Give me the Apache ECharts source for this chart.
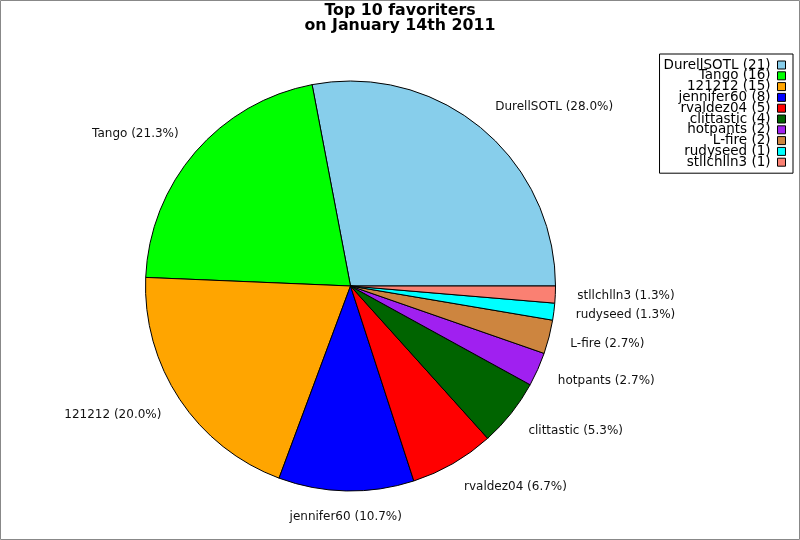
<!DOCTYPE html>
<html lang="en">
<head>
    <meta charset="UTF-8">
    <title>Top 10 favoriters</title>
    <script src="https://cdn.jsdelivr.net/npm/echarts@6/dist/echarts.min.js"></script>
    <style>
        html, body { margin: 0; padding: 0; background: #fff; }
        #main { width: 800px; height: 540px; }
    </style>
</head>
<body>
<div id="main"></div>
<script type="text/javascript">
    // data
    var names = ['DurellSOTL', 'Tango', '121212', 'jennifer60', 'rvaldez04',
                 'clittastic', 'hotpants', 'L-fire', 'rudyseed', 'stllchlln3'];
    var counts = [21, 16, 15, 8, 5, 4, 2, 2, 1, 1];
    var colors = ['#87ceeb', '#00ff00', '#ffa500', '#0000ff', '#ff0000',
                  '#006400', '#a020f0', '#cd853f', '#00ffff', '#fa8072'];

    var pieData = [];
    var total = 0;
    for (var i = 0; i < names.length; i++) {
        pieData.push({ name: names[i], value: counts[i] });
        total += counts[i];
    }

    // mid angle of each slice (counter-clockwise from 3 o'clock), used to
    // nudge labels away from the pie vertically like the original does
    var midAngles = [];
    var acc = 0;
    for (var j = 0; j < counts.length; j++) {
        midAngles.push((acc + counts[j] / 2) / total * Math.PI * 2);
        acc += counts[j];
    }

    var myChart = echarts.init(document.getElementById('main'));

    var option = {
        animation: false,
        color: colors,
        title: {
            text: 'Top 10 favoriters\non January 14th 2011',
            left: 'center',
            top: 3,
            padding: 0,
            textStyle: {
                fontFamily: 'DejaVu Sans',
                fontSize: 15.8,
                fontWeight: 'bold',
                color: '#000',
                lineHeight: 15
            }
        },
        legend: {
            orient: 'vertical',
            right: 7,
            top: 54,
            align: 'right',
            padding: [4, 7, 4, 4],
            borderColor: '#000',
            borderWidth: 1,
            itemWidth: 8,
            itemHeight: 8,
            itemGap: -3.2,
            icon: 'rect',
            selectedMode: false,
            itemStyle: { borderColor: '#000', borderWidth: 1 },
            textStyle: {
                fontFamily: 'DejaVu Sans',
                fontSize: 13.5,
                color: '#000',
                padding: [0, 2, 0, 0]
            },
            formatter: function (name) {
                return name + ' (' + counts[names.indexOf(name)] + ')';
            },
            data: names
        },
        graphic: [{
            type: 'rect',
            shape: { x: 0.5, y: 0.5, width: 799, height: 539 },
            style: { fill: 'none', stroke: '#888', lineWidth: 1 },
            silent: true
        }],
        series: [{
            type: 'pie',
            center: [350.5, 286],
            radius: 205,
            startAngle: 0,
            clockwise: false,
            avoidLabelOverlap: false,
            percentPrecision: 1,
            itemStyle: { borderColor: '#000', borderWidth: 1 },
            emphasis: { disabled: true },
            label: {
                show: true,
                position: 'outside',
                distanceToLabelLine: 0,
                fontFamily: 'DejaVu Sans',
                fontSize: 12,
                color: '#111',
                formatter: function (p) {
                    return p.name + ' (' + p.percent.toFixed(1) + '%)';
                }
            },
            labelLine: { show: false, length: 22, length2: 0 },
            labelLayout: function (p) {
                var off = -6 * Math.sin(midAngles[p.dataIndex]);
                off = Math.max(-4, Math.min(4, off));
                var res = { dy: off };
                if (p.dataIndex === 3) {
                    res.align = 'center';
                }
                return res;
            },
            data: pieData
        }]
    };

    myChart.setOption(option);
</script>
</body>
</html>
